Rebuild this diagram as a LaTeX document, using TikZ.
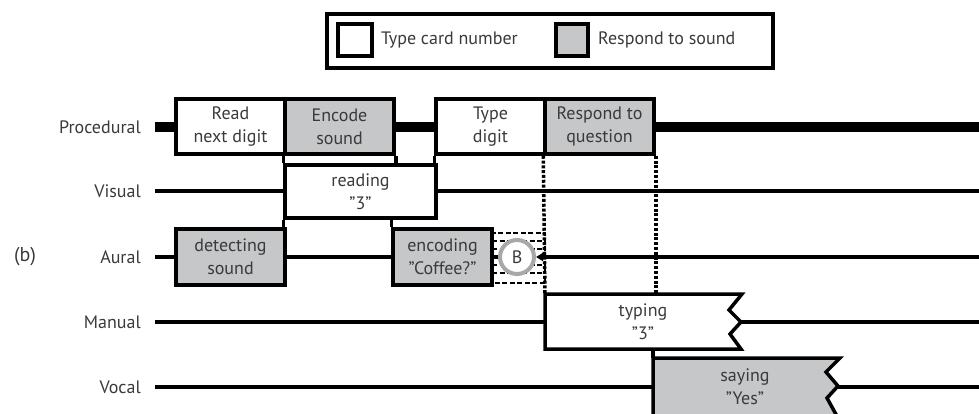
\documentclass[tikz,border=0pt]{standalone}
\usepackage{fontspec}
\setmainfont{PT Sans}
\usetikzlibrary{arrows.meta}
\definecolor{boxgrey}{HTML}{C6C7C8}
\definecolor{txt}{HTML}{3A3A3A}
\definecolor{ringgrey}{HTML}{A8A8A8}
\newcommand{\qq}{\char34\relax}
\begin{document}
\begin{tikzpicture}[x=1pt,y=-1pt,
  fnt/.style={font=\fontsize{18}{23}\selectfont, text=txt},
  lbl/.style={fnt, anchor=east, inner sep=0pt},
  boxbase/.style={fnt, draw=black, line width=3.5pt, inner sep=0pt, align=center, minimum height=55pt},
  wbox/.style={boxbase, fill=white},
  gbox/.style={boxbase, fill=boxgrey},
  rowline/.style={line width=3.2pt},
  dotline/.style={line width=3.5pt, dash pattern=on 3pt off 1.8pt},
  hatch/.style={line width=1.3pt, dash pattern=on 5pt off 2.5pt},
  edge/.style={line width=3.5pt}
]
\useasboundingbox (0,0) rectangle (979,413);
\clip (0,0) rectangle (979,413);

% legend
\node[draw, line width=4.5pt, minimum width=446pt, minimum height=54pt, inner sep=0pt] (legend) at (550,41) {};
\node[draw, line width=4pt, fill=white, minimum width=34pt, minimum height=32pt, inner sep=0pt] (lw) at (354.5,40) {};
\node[fnt, anchor=west, inner sep=0pt] (lwt) at (381,40) {Type card number};
\node[draw, line width=4pt, fill=boxgrey, minimum width=32pt, minimum height=32pt, inner sep=0pt] (lg) at (572,40) {};
\node[fnt, anchor=west, inner sep=0pt] (lgt) at (598,40) {Respond to sound};

% row labels
\node[lbl] (lproc) at (141,127) {Procedural};
\node[lbl] (lvis) at (141,191) {Visual};
\node[lbl] (laur) at (141,257) {Aural};
\node[lbl] (lman) at (141,322) {Manual};
\node[lbl] (lvoc) at (141,387) {Vocal};
\node[fnt, inner sep=0pt, font=\fontsize{20}{24}\selectfont] (lb) at (25,257) {(b)};

% row line end points
\coordinate (p0) at (155,127); \coordinate (p1) at (979,127);
\coordinate (v0) at (155,191); \coordinate (v1) at (979,191);
\coordinate (a0) at (155,257); \coordinate (a1) at (979,257);
\coordinate (m0) at (155,322); \coordinate (m1) at (979,322);
\coordinate (o0) at (155,387); \coordinate (o1) at (979,387);

\draw[line width=10pt] (p0) -- (p1);
\draw[rowline] (v0) -- (v1);
\draw[rowline] (m0) -- (m1);
\draw[rowline] (o0) -- (o1);

% procedural boxes
\node[wbox, minimum width=109pt] (read) at (230.5,126.5) {Read\\next digit};
\node[gbox, minimum width=109pt] (encode) at (339.5,126.5) {Encode\\sound};
\node[wbox, minimum width=109pt] (typed) at (490.5,126.5) {Type\\digit};
\node[gbox, minimum width=109pt] (respond) at (599.5,126.5) {Respond to\\question};

% visual box
\node[wbox, minimum width=151pt, minimum height=53pt] (reading) at (360.5,191.5) {reading\\\qq3\qq};

% aural boxes
\node[gbox, minimum width=109pt, minimum height=56pt] (detect) at (230.5,257) {detecting\\sound};
\node[gbox, minimum width=99pt, minimum height=56pt] (encoding) at (442.5,257) {encoding\\\qq Coffee?\qq};

% vertical joins between boxes
\draw[edge] (encode.south east) -- (encode.south east |- reading.north);
\draw[edge] (encode.south west) -- (encode.south west |- reading.north);
\draw[edge] (typed.south west) -- (typed.south west |- reading.north);
\draw[edge] (reading.south west) -- (reading.south west |- detect.north);
\draw[edge] (encoding.north west) -- (encoding.north west |- reading.south);

% buffered region
\coordinate (hNW) at (492,233); \coordinate (hSE) at (545,283);
\draw[hatch] (hNW) rectangle (hSE);
\foreach \yy in {241,249,265,273} \draw[hatch] (492,\yy) -- (545,\yy);

% dotted dependency lines (under the boxes they reach)
\coordinate (tNW) at (545,294);
\coordinate (tSW) at (545,349);
\coordinate (sNW) at (653,358);
\draw[dotline] (respond.south west) -- (tNW);
\draw[dotline] (respond.south east) -- (respond.south east |- tNW);
\draw[edge] (sNW) -- (sNW |- tSW);

\node[circle, draw=ringgrey, line width=4pt, fill=white, minimum size=34pt, inner sep=0pt, fnt] (Bc) at (517,257) {B};

% aural line
\draw[line width=4pt] (a0) -- (detect.west);
\draw[rowline] (detect.east) -- (encoding.west);
\draw[rowline] (encoding.east) -- (Bc.west);
\draw[rowline, -{Triangle[length=7pt,width=8pt]}] (a1) -- (Bc.east);

% manual box (typing)
\filldraw[fill=white, line width=3.5pt, line join=miter] (tNW) -- (742,294) -- (729,310) -- (741,322) -- (730,334) -- (741,349) -- (tSW) -- cycle;
\node[fnt, align=center, inner sep=0pt] (typing) at (643,321.5) {typing\\\qq3\qq};

% vocal box (saying)
\filldraw[fill=boxgrey, line width=3.5pt, line join=miter] (sNW) -- (840,358) -- (826,372) -- (838,386) -- (827,398) -- (838,418) -- (653,418) -- cycle;
\node[fnt, align=center, inner sep=0pt] (saying) at (745,387) {saying\\\qq Yes\qq};
\end{tikzpicture}
\end{document}
